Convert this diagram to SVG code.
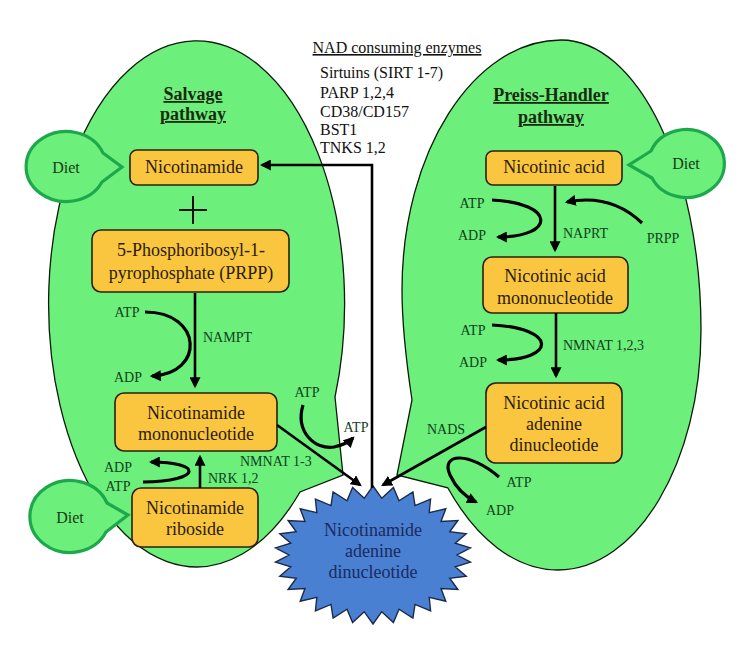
<svg xmlns="http://www.w3.org/2000/svg" width="742" height="660" viewBox="0 0 742 660">
<defs>
<style>
.region{fill:#6cef7b;stroke:#0a1a0a;stroke-width:1.3}
.diet{fill:#6cef7b;stroke:#1da84c;stroke-width:3.2}
.box{fill:#fbc63f;stroke:#2a2010;stroke-width:1.6}
.bt{font-family:"Liberation Serif",serif;font-size:18px;fill:#2a1c08;text-anchor:middle}
.lb{font-family:"Liberation Serif",serif;font-size:14px;fill:#10401c}
.lbm{font-family:"Liberation Serif",serif;font-size:14px;fill:#10401c;text-anchor:middle}
.ti{font-family:"Liberation Serif",serif;font-size:16px;fill:#111}
.hd{font-family:"Liberation Serif",serif;font-size:18px;font-weight:bold;fill:#1a2a10;text-anchor:middle;text-decoration:underline}
.dt{font-family:"Liberation Serif",serif;font-size:16px;fill:#1a3a1a;text-anchor:middle}
.ln{fill:none;stroke:#000;stroke-width:2.6}
.cv{fill:none;stroke:#000;stroke-width:3.2}
</style>
<marker id="ah" viewBox="0 0 10 10" refX="8" refY="5" markerWidth="11" markerHeight="11" markerUnits="userSpaceOnUse" orient="auto"><path d="M0,0 L10,5 L0,10 Z" fill="#000"/></marker>
</defs>
<rect width="742" height="660" fill="#fff"/>

<g id="salvage-region">
<path class="region" d="M335,397 L343,475 L300,492 A148 263 0 1 1 335,397 Z"/>
</g>
<g id="preiss-region">
<path class="region" d="M561,40 C638,40 701,170 701,330 C701,462 637,570 558,570 C515,570 476,538.5 447.75,487.75 L397,475 L412,400 C406,360 402,320 402,290 C402,152.5 473.5,40 561,40 Z"/>
</g>

<g id="nad">
<path d="M373,486 L381.8,498.3 L393.4,487.5 L399,500.8 L412.9,492 L415,505.6 L430.6,499.2 L429.2,512.6 L445.8,508.8 L441,521.5 L457.9,520.5 L449.7,531.8 L466.2,533.7 L455.2,543.1 L470.5,547.8 L457,555 L470.5,562.2 L455.2,566.9 L466.2,576.3 L449.7,578.2 L457.9,589.5 L441,588.5 L445.8,601.2 L429.2,597.4 L430.6,610.8 L415,604.4 L412.9,618 L399,609.2 L393.4,622.5 L381.8,611.7 L373,624 L364.2,611.7 L352.6,622.5 L347,609.2 L333.1,618 L331,604.4 L315.4,610.8 L316.8,597.4 L300.2,601.2 L305,588.5 L288.1,589.5 L296.3,578.2 L279.8,576.3 L290.8,566.9 L275.5,562.2 L289,555 L275.5,547.8 L290.8,543.1 L279.8,533.7 L296.3,531.8 L288.1,520.5 L305,521.5 L300.2,508.8 L316.8,512.6 L315.4,499.2 L331,505.6 L333.1,492 L347,500.8 L352.6,487.5 L364.2,498.3 Z" fill="#4a80d2" stroke="#1c2a4a" stroke-width="1.4"/>
<text class="bt" style="fill:#1a2a5e" x="373" y="536">Nicotinamide</text>
<text class="bt" style="fill:#1a2a5e" x="373" y="557">adenine</text>
<text class="bt" style="fill:#1a2a5e" x="373" y="578">dinucleotide</text>
</g>

<g id="diet-1"><path class="diet" d="M103,153 L122,167 L102,182 A40 35 0 1 1 103,153 Z"/><text class="dt" x="66" y="173">Diet</text></g>
<g id="diet-2"><path class="diet" d="M107,503 L128,515 L106,532 A40 36 0 1 1 107,503 Z"/><text class="dt" x="70" y="523">Diet</text></g>
<g id="diet-3"><path class="diet" d="M651,151 L629,165 L652,178 A38 34 0 1 0 651,151 Z"/><text class="dt" x="686" y="169">Diet</text></g>

<g id="titles">
<text class="ti" x="397" y="53" text-anchor="middle" text-decoration="underline">NAD consuming enzymes</text>
<text class="ti" x="320" y="78">Sirtuins (SIRT 1-7)</text>
<text class="ti" x="320" y="98">PARP 1,2,4</text>
<text class="ti" x="320" y="117">CD38/CD157</text>
<text class="ti" x="320" y="135">BST1</text>
<text class="ti" x="320" y="153">TNKS 1,2</text>
<text class="hd" x="193" y="100">Salvage</text>
<text class="hd" x="193" y="120">pathway</text>
<text class="hd" x="551" y="101">Preiss-Handler</text>
<text class="hd" x="551" y="123">pathway</text>
</g>

<g id="nicotinamide"><rect class="box" x="130" y="150" width="128" height="35" rx="7"/><text class="bt" x="194" y="173">Nicotinamide</text></g>
<g id="plus"><path d="M179,210 H207 M193,196 V224" stroke="#111" stroke-width="2" fill="none"/></g>
<g id="prpp"><rect class="box" x="92" y="230" width="197" height="62" rx="9"/><text class="bt" x="191" y="256">5-Phosphoribosyl-1-</text><text class="bt" x="191" y="279">pyrophosphate (PRPP)</text></g>
<g id="nmn"><rect class="box" x="115" y="393" width="162" height="58" rx="9"/><text class="bt" x="196" y="419">Nicotinamide</text><text class="bt" x="196" y="440">mononucleotide</text></g>
<g id="nr"><rect class="box" x="132" y="488" width="126" height="59" rx="9"/><text class="bt" x="195" y="514">Nicotinamide</text><text class="bt" x="195" y="535">riboside</text></g>
<g id="na"><rect class="box" x="486" y="151" width="136" height="34" rx="7"/><text class="bt" x="554" y="173">Nicotinic acid</text></g>
<g id="namn"><rect class="box" x="483" y="257" width="145" height="56" rx="9"/><text class="bt" x="555" y="282">Nicotinic acid</text><text class="bt" x="555" y="304">mononucleotide</text></g>
<g id="naad"><rect class="box" x="486" y="383" width="136" height="80" rx="10"/><text class="bt" x="554" y="409">Nicotinic acid</text><text class="bt" x="554" y="430">adenine</text><text class="bt" x="554" y="451">dinucleotide</text></g>

<g id="connectors">
<path class="ln" d="M372,488 L372,165 L262,165" marker-end="url(#ah)"/>
<path class="ln" d="M195,293 L195,386" marker-end="url(#ah)"/>
<path class="ln" d="M200,488 L200,457" marker-end="url(#ah)"/>
<path class="ln" d="M277,425 L360,485" marker-end="url(#ah)"/>
<path class="ln" d="M486,427 L383,485" marker-end="url(#ah)"/>
<path class="ln" d="M555,186 L555,250" marker-end="url(#ah)"/>
<path class="ln" d="M556,313 L556,376" marker-end="url(#ah)"/>
<path class="cv" d="M145,312 C203,312 205,374 152,376" marker-end="url(#ah)"/>
<path class="cv" d="M143,482 C203,481 203,462 151,462" marker-end="url(#ah)"/>
<path class="cv" d="M492,200 C556,203 556,237 498,237" marker-end="url(#ah)"/>
<path class="cv" d="M642,223 C618,200 592,197 567,202" marker-end="url(#ah)"/>
<path class="cv" d="M492,325 C557,328 557,360 498,360" marker-end="url(#ah)"/>
<path class="cv" d="M303,405 C295,432 315,450 334,447 C343,445 349,442 353,438" marker-end="url(#ah)"/>
<path class="cv" d="M499,477 C470,452 440,452 450,475 C456,488 466,497 476,502" marker-end="url(#ah)"/>
</g>

<g id="labels">
<text class="lbm" x="127" y="317">ATP</text>
<text class="lbm" x="128" y="382">ADP</text>
<text class="lb" x="203" y="342">NAMPT</text>
<text class="lbm" x="118" y="472">ADP</text>
<text class="lbm" x="118" y="491">ATP</text>
<text class="lb" x="208" y="483">NRK 1,2</text>
<text class="lb" x="240" y="466">NMNAT 1-3</text>
<text class="lbm" x="307" y="397">ATP</text>
<text class="lbm" x="356" y="432">ATP</text>
<text class="lbm" x="472" y="208">ATP</text>
<text class="lbm" x="472" y="240">ADP</text>
<text class="lb" x="563" y="238">NAPRT</text>
<text class="lbm" x="663" y="243">PRPP</text>
<text class="lbm" x="473" y="335">ATP</text>
<text class="lbm" x="473" y="367">ADP</text>
<text class="lb" x="563" y="350">NMNAT 1,2,3</text>
<text class="lbm" x="446" y="434">NADS</text>
<text class="lbm" x="519" y="487">ATP</text>
<text class="lbm" x="500" y="515">ADP</text>
</g>
</svg>
